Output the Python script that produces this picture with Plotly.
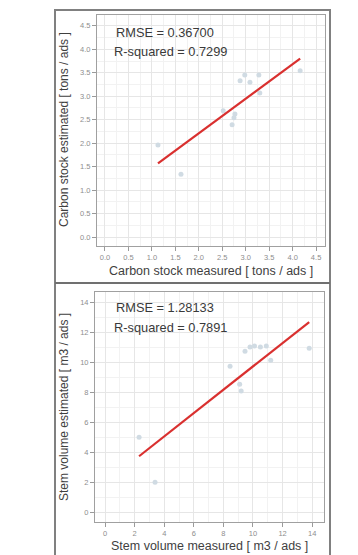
import plotly.graph_objects as go

W, H = 358, 555

# ---- data ----
carbon_measured = [1.13, 1.62, 2.52, 2.71, 2.75, 2.77, 2.88, 2.98, 3.09, 3.28, 3.30, 4.16]
carbon_estimated = [1.96, 1.34, 2.69, 2.39, 2.54, 2.62, 3.33, 3.45, 3.30, 3.45, 3.07, 3.54]
carbon_fit_x = [1.13, 4.16]
carbon_fit_y = [1.57, 3.80]
carbon_stats = ["RMSE = 0.36700", "R-squared = 0.7299"]

stem_measured = [2.3, 3.38, 8.45, 9.1, 9.2, 9.46, 9.8, 10.1, 10.5, 10.9, 11.2, 13.8]
stem_estimated = [5.0, 2.0, 9.73, 8.53, 8.07, 10.73, 11.0, 11.07, 11.0, 11.07, 10.13, 10.93]
stem_fit_x = [2.3, 13.8]
stem_fit_y = [3.73, 12.67]
stem_stats = ["RMSE = 1.28133", "R-squared = 0.7891"]

carbon_xtitle = "Carbon stock measured [ tons / ads ]"
carbon_ytitle = "Carbon stock estimated [ tons / ads ]"
stem_xtitle = "Stem volume measured [ m3 / ads ]"
stem_ytitle = "Stem volume estimated [ m3 / ads ]"

FONT = "Liberation Sans, Arial, sans-serif"
PT_COLOR = "#d0dbe3"
LINE_COLOR = "#d9302f"

def px_x(p):
    return p / W

def px_y(p):
    return 1 - p / H

fig = go.Figure()

fig.add_trace(go.Scatter(x=carbon_measured, y=carbon_estimated, mode="markers",
                         marker=dict(color=PT_COLOR, size=5), xaxis="x", yaxis="y",
                         showlegend=False))
fig.add_trace(go.Scatter(x=carbon_fit_x, y=carbon_fit_y, mode="lines",
                         line=dict(color=LINE_COLOR, width=2.2), xaxis="x", yaxis="y",
                         showlegend=False))
fig.add_trace(go.Scatter(x=stem_measured, y=stem_estimated, mode="markers",
                         marker=dict(color=PT_COLOR, size=5), xaxis="x2", yaxis="y2",
                         showlegend=False))
fig.add_trace(go.Scatter(x=stem_fit_x, y=stem_fit_y, mode="lines",
                         line=dict(color=LINE_COLOR, width=2.2), xaxis="x2", yaxis="y2",
                         showlegend=False))

def axis(rng, dtick, minor_dtick, domain, anchor, fmt=None):
    d = dict(range=rng, dtick=dtick, tick0=0, domain=domain, anchor=anchor,
             showgrid=True, gridcolor="#e6e6e6", gridwidth=1,
             minor=dict(showgrid=True, dtick=minor_dtick, gridcolor="#f2f2f2", gridwidth=0.8),
             zeroline=False, showline=True, mirror=True, linecolor="#a0a0a0", linewidth=1,
             ticks="outside", ticklen=4, tickcolor="#9a9a9a", tickwidth=1,
             tickfont=dict(family=FONT, size=7.5, color="#8e8e8e"), fixedrange=True)
    if fmt:
        d["tickformat"] = fmt
    return d

top_dom = [px_y(238), px_y(7)]
bot_dom = [px_y(514), px_y(284)]

fig.update_layout(
    width=W, height=H, margin=dict(l=0, r=0, t=0, b=0),
    paper_bgcolor="white", plot_bgcolor="white",
    xaxis=axis([-0.17, 4.69], 0.5, 0.25, [px_x(89), px_x(317)], "y", ".1f"),
    yaxis=axis([-0.19, 4.73], 0.5, 0.25, top_dom, "x", ".1f"),
    xaxis2=axis([-0.68, 14.8], 2, 1, [px_x(87), px_x(316)], "y2"),
    yaxis2=axis([-0.65, 14.67], 2, 1, bot_dom, "x2"),
)

ann = []
def txt(x, y, s, size, color, anchor="left", angle=0):
    ann.append(dict(x=px_x(x), y=px_y(y), xref="paper", yref="paper", text=s,
                    showarrow=False, xanchor=anchor, yanchor="middle", textangle=angle,
                    font=dict(family=FONT, size=size, color=color)))

txt(106, 24, carbon_stats[0], 12.8, "#3a3a3a")
txt(104, 44, carbon_stats[1], 12.8, "#3a3a3a")
txt(106, 299, stem_stats[0], 12.8, "#3a3a3a")
txt(104, 319, stem_stats[1], 12.8, "#3a3a3a")

txt(203, 263, carbon_xtitle, 12.5, "#3f3f3f", "center")
txt(201, 538, stem_xtitle, 12.5, "#3f3f3f", "center")
txt(56, 122, carbon_ytitle, 12.0, "#3f3f3f", "center", -90)
txt(56, 399, stem_ytitle, 12.0, "#3f3f3f", "center", -90)

fig.update_layout(annotations=ann)

shapes = [
    dict(type="rect", xref="paper", yref="paper", x0=px_x(47), x1=px_x(322),
         y0=px_y(552), y1=px_y(2), line=dict(color="#808080", width=2)),
    dict(type="line", xref="paper", yref="paper", x0=px_x(47), x1=px_x(322),
         y0=px_y(275), y1=px_y(275), line=dict(color="#707070", width=2)),
]
fig.update_layout(shapes=shapes)

fig.write_html("out.html")
